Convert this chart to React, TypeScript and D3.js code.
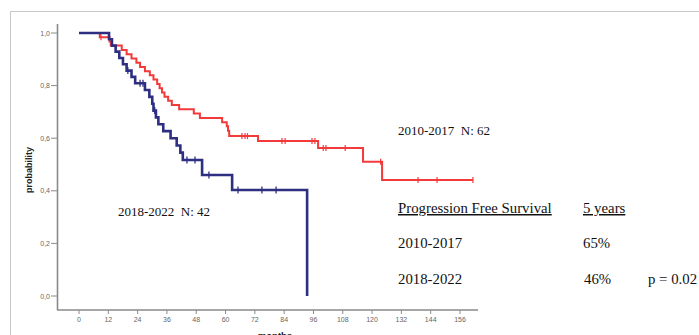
import React from "react";
import * as d3 from "d3";

// Kaplan–Meier step data (months, survival probability)
const redTimes = [0, 8.5, 12.5, 13.0, 17.5, 19.5, 21.5, 23.5, 25.0, 27.0, 29.0, 30.5, 32.0, 33.0, 34.0, 35.0, 36.5, 38.0, 41.0, 47.0, 49.5, 58.6, 60.5, 61.0, 61.5, 73.3, 97.9, 116.3, 124.1, 161.3];
const redSurv = [1.0, 0.984, 0.968, 0.952, 0.935, 0.919, 0.903, 0.887, 0.871, 0.855, 0.839, 0.823, 0.806, 0.79, 0.774, 0.758, 0.742, 0.726, 0.71, 0.694, 0.677, 0.661, 0.645, 0.628, 0.608, 0.589, 0.563, 0.51, 0.441, 0.441];
const redCensor = [9.0, 66.7, 68.0, 69.0, 83.1, 84.4, 95.4, 96.6, 100.0, 101.1, 109.0, 123.5, 138.8, 146.6, 161.3];

const blueTimes = [0, 12.3, 13.5, 15.0, 16.5, 18.0, 19.5, 21.5, 23.0, 27.0, 28.8, 30.0, 30.5, 31.5, 32.5, 34.5, 37.5, 40.0, 41.5, 42.5, 50.4, 62.7, 93.4];
const blueSurv = [1.0, 0.976, 0.952, 0.929, 0.905, 0.881, 0.857, 0.833, 0.809, 0.783, 0.757, 0.731, 0.705, 0.679, 0.653, 0.627, 0.6, 0.572, 0.545, 0.517, 0.46, 0.403, 0.0];
const blueCensor = [20.0, 25.0, 26.2, 31.0, 44.2, 47.5, 53.2, 65.1, 74.9, 80.7];

const xTicks = [0, 12, 24, 36, 48, 60, 72, 84, 96, 108, 120, 132, 144, 156];
const yTicks = [0, 0.2, 0.4, 0.6, 0.8, 1.0];

const W = 699;
const H = 335;

function survAt(times: number[], surv: number[], t: number) {
  let s = surv[0];
  for (let i = 0; i < times.length; i++) {
    if (times[i] <= t) s = surv[i];
  }
  return s;
}

export default function App() {
  const x = d3.scaleLinear().domain([0, 156]).range([79, 460]);
  const y = d3.scaleLinear().domain([0, 1]).range([296, 33]);
  const line = d3
    .line<[number, number]>()
    .x((d) => x(d[0]))
    .y((d) => y(d[1]))
    .curve(d3.curveStepAfter);

  const redPts = redTimes.map((t, i) => [t, redSurv[i]] as [number, number]);
  const bluePts = blueTimes.map((t, i) => [t, blueSurv[i]] as [number, number]);

  const red = "#f23a3a";
  const blue = "#2e2f80";
  const axisColor = "#8a8a8a";
  const tickFont = "Liberation Sans, Arial, sans-serif";
  const serif = "Liberation Serif, Times New Roman, serif";

  return (
    <svg
      width={W}
      height={H}
      style={{ position: "absolute", left: 0, top: 0, background: "#fff" }}
    >
      {/* frame */}
      <line x1={10.5} y1={11.5} x2={W} y2={11.5} stroke="#c8c8c8" strokeWidth={1} />
      <line x1={10.5} y1={11.5} x2={10.5} y2={H} stroke="#c8c8c8" strokeWidth={1} />

      {/* axes */}
      <line x1={57.5} y1={24} x2={57.5} y2={310} stroke={axisColor} strokeWidth={1.6} />
      <line x1={57} y1={310} x2={478} y2={310} stroke={axisColor} strokeWidth={1.6} />
      {yTicks.map((t) => (
        <g key={"y" + t}>
          <line x1={51} x2={57} y1={y(t)} y2={y(t)} stroke={axisColor} strokeWidth={1} />
          <text
            x={50}
            y={y(t) + 2.5}
            fontSize={7}
            fill="#666"
            textAnchor="end"
            fontFamily={tickFont}
          >
            {t.toFixed(1).replace(".", ",")}
          </text>
        </g>
      ))}
      {xTicks.map((t) => (
        <g key={"x" + t}>
          <line x1={x(t)} x2={x(t)} y1={310} y2={314} stroke={axisColor} strokeWidth={1} />
          <text
            x={x(t)}
            y={322}
            fontSize={7}
            fill="#666"
            textAnchor="middle"
            fontFamily={tickFont}
          >
            {t}
          </text>
        </g>
      ))}
      <text
        x={275}
        y={339}
        fontSize={9.5}
        fontWeight="bold"
        textAnchor="middle"
        fontFamily={tickFont}
        fill="#222"
      >
        months
      </text>
      <text
        transform="translate(32,170) rotate(-90)"
        fontSize={9}
        fontWeight="bold"
        textAnchor="middle"
        fontFamily={tickFont}
        fill="#222"
      >
        probability
      </text>

      {/* curves */}
      <path d={line(redPts) || ""} fill="none" stroke={red} strokeWidth={2} />
      {redCensor.map((t, i) => {
        const s = survAt(redTimes, redSurv, t);
        return (
          <line
            key={"rc" + i}
            x1={x(t)}
            x2={x(t)}
            y1={y(s) - 3}
            y2={y(s) + 3}
            stroke={red}
            strokeWidth={1.2}
          />
        );
      })}
      <path d={line(bluePts) || ""} fill="none" stroke={blue} strokeWidth={2.6} />
      {blueCensor.map((t, i) => {
        const s = survAt(blueTimes, blueSurv, t);
        return (
          <line
            key={"bc" + i}
            x1={x(t)}
            x2={x(t)}
            y1={y(s) - 3.5}
            y2={y(s) + 3.5}
            stroke={blue}
            strokeWidth={1.3}
          />
        );
      })}

      {/* annotations */}
      <text x={398} y={135} fontSize={13} fontFamily={serif} fill="#111" style={{ whiteSpace: "pre" }}>
        {"2010-2017  N: 62"}
      </text>
      <text x={118} y={216} fontSize={13} fontFamily={serif} fill="#111" style={{ whiteSpace: "pre" }}>
        {"2018-2022  N: 42"}
      </text>

      <text x={398} y={213} fontSize={14.8} fontFamily={serif} fill="#111" textDecoration="underline">
        Progression Free Survival
      </text>
      <text x={583} y={213} fontSize={14.8} fontFamily={serif} fill="#111" textDecoration="underline">
        5 years
      </text>
      <text x={398} y={248} fontSize={14.8} fontFamily={serif} fill="#111">
        2010-2017
      </text>
      <text x={583} y={248} fontSize={14.8} fontFamily={serif} fill="#111">
        65%
      </text>
      <text x={398} y={284} fontSize={14.8} fontFamily={serif} fill="#111">
        2018-2022
      </text>
      <text x={584} y={284} fontSize={14.8} fontFamily={serif} fill="#111">
        46%
      </text>
      <text x={648} y={284} fontSize={14.8} fontFamily={serif} fill="#111">
        p = 0.02
      </text>
    </svg>
  );
}
